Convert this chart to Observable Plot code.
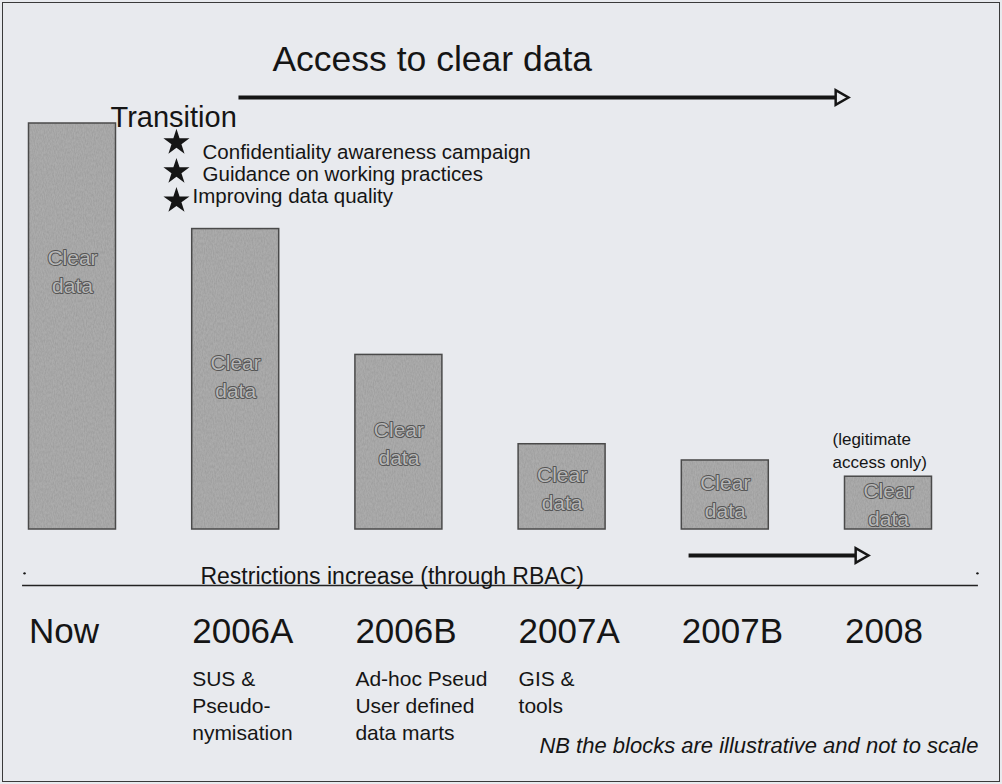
<!DOCTYPE html>
<html>
<head>
<meta charset="utf-8">
<script src="https://cdn.jsdelivr.net/npm/d3@7"></script>
<script src="https://cdn.jsdelivr.net/npm/@observablehq/plot@0.6"></script>
<style>
  html, body { margin: 0; padding: 0; overflow: hidden; background: #e8eaee; }
  #chart svg { display: block; outline: 1.5px solid #3a3a3a; outline-offset: -3px; }
</style>
</head>
<body>
<div id="chart"></div>
<script>
// ---- data ----
const stages = ["Now", "2006A", "2006B", "2007A", "2007B", "2008"];
const clearData = [100, 74, 43, 21, 17, 13];           // relative amount of clear data (illustrative)
const barLabel = "Clear\ndata";
const stageNotes = ["", "SUS &\nPseudo-\nnymisation", "Ad-hoc Pseud\nUser defined\ndata marts", "GIS &\ntools", "", ""];
const transitionSteps = ["Confidentiality awareness campaign", "Guidance on working practices", "Improving data quality"];
const titleText = "Access to clear data";
const transitionText = "Transition";
const restrictionsText = "Restrictions increase (through RBAC)";
const legitText = "(legitimate\naccess only)";
const footnoteText = "NB the blocks are illustrative and not to scale";

const bars = stages.map((s, i) => ({i, stage: s, value: clearData[i], note: stageNotes[i]}));

const BG = "#e8eaee";
const INK = "#151515";
const FONT = "'Liberation Sans', Arial, Helvetica, sans-serif";
const hw = 0.2665; // half bar width in stage units

const plot = Plot.plot({
  width: 1002,
  height: 784,
  marginTop: 123,
  marginBottom: 255,
  marginLeft: 0,
  marginRight: 0,
  style: {background: BG, fontFamily: FONT, color: INK, overflow: "visible"},
  x: {domain: [0, 5], range: [72, 888], label: null},
  y: {domain: [0, 100], range: [529, 123], axis: null},
  marks: [
    // bars
    Plot.rect(bars, {
      x1: d => d.i - hw, x2: d => d.i + hw, y1: 0, y2: "value",
      fill: "url(#barTex)", stroke: "#4a4a4a", strokeWidth: 1.5
    }),
    Plot.text(bars, {
      x: "i", y: d => Math.max(d.value / 2, d.value - 36), text: () => barLabel,
      fontSize: 21, lineHeight: 1.35, fill: "#b8b8b8", stroke: "#555", strokeWidth: 2
    }),
    // stage axis
    Plot.axisX({
      ticks: d3.range(stages.length), tickFormat: i => stages[i], label: null,
      tickSize: 0, tickPadding: 88.5, fontSize: 35, textAnchor: "start", dx: -43.5, fill: INK
    }),
    // stage notes
    Plot.text(bars, {
      x: "i", y: () => -33.7, text: "note", lineAnchor: "top", textAnchor: "start",
      dx: -43.5, fontSize: 21, lineHeight: 1.3, fill: INK
    }),
    // access arrow + title
    Plot.text([titleText], {x: () => 1.225, y: () => 115.8, text: d => d, textAnchor: "start", fontSize: 35.5, fill: INK}),
    Plot.link([0], {x1: () => 1.017, x2: () => 4.681, y1: () => 106.4, y2: () => 106.4, stroke: INK, strokeWidth: 4}),
    Plot.dot([0], {x: () => 4.7025, y: () => 106.4, symbol: "triangle", rotate: 90, r: 5.5, fill: BG, stroke: INK, strokeWidth: 2.5}),
    // transition
    Plot.text([transitionText], {x: () => 0.233, y: () => 101.5, text: d => d, textAnchor: "start", fontSize: 29, fill: INK}),
    Plot.dot(transitionSteps, {x: () => 0.637, y: (d, i) => 95.3 - 7.15 * i, symbol: "star", r: 8.2, fill: INK}),
    Plot.text(transitionSteps, {
      x: (d, i) => i === 2 ? 0.735 : 0.797, y: (d, i) => 92.9 - 5.45 * i, text: d => d,
      textAnchor: "start", fontSize: 20.5, fill: INK
    }),
    // legitimate access note
    Plot.text([legitText], {x: () => 4.657, y: () => 19.7, text: d => d, textAnchor: "start", fontSize: 17, lineHeight: 1.35, fill: INK}),
    // restrictions arrow, line, text
    Plot.link([0], {x1: () => 3.775, x2: () => 4.804, y1: () => -6.4, y2: () => -6.4, stroke: INK, strokeWidth: 4}),
    Plot.dot([0], {x: () => 4.825, y: () => -6.4, symbol: "triangle", rotate: 90, r: 5.5, fill: BG, stroke: INK, strokeWidth: 2.5}),
    Plot.ruleY([-13.8], {x1: -0.306, x2: 5.551, stroke: "#222", strokeWidth: 1.5}),
    Plot.dot([-0.294, 5.545], {x: d => d, y: () => -10.8, r: 1.2, fill: INK}),
    Plot.text([restrictionsText], {x: () => 0.784, y: () => -11.5, text: d => d, textAnchor: "start", fontSize: 23, fill: INK}),
    // footnote
    Plot.text([footnoteText], {x: () => 5.551, y: () => -53.2, text: d => d, textAnchor: "end", fontSize: 22, fontStyle: "italic", fill: INK})
  ]
});

d3.select(plot).insert("defs", ":first-child").html(`
  <filter id="grain" x="0" y="0" width="100%" height="100%">
    <feTurbulence type="fractalNoise" baseFrequency="0.9 0.35" numOctaves="2" seed="3" result="n"/>
    <feColorMatrix in="n" type="matrix" values="0 0 0 0 0.3  0 0 0 0 0.3  0 0 0 0 0.3  0 0 0 1.1 -0.3" result="g"/>
    <feMerge><feMergeNode in="SourceGraphic"/><feMergeNode in="g"/></feMerge>
  </filter>
  <pattern id="barTex" patternUnits="userSpaceOnUse" width="1002" height="784">
    <rect width="1002" height="784" fill="#acacac" filter="url(#grain)"/>
  </pattern>`);

document.getElementById("chart").appendChild(plot);
</script>
</body>
</html>
